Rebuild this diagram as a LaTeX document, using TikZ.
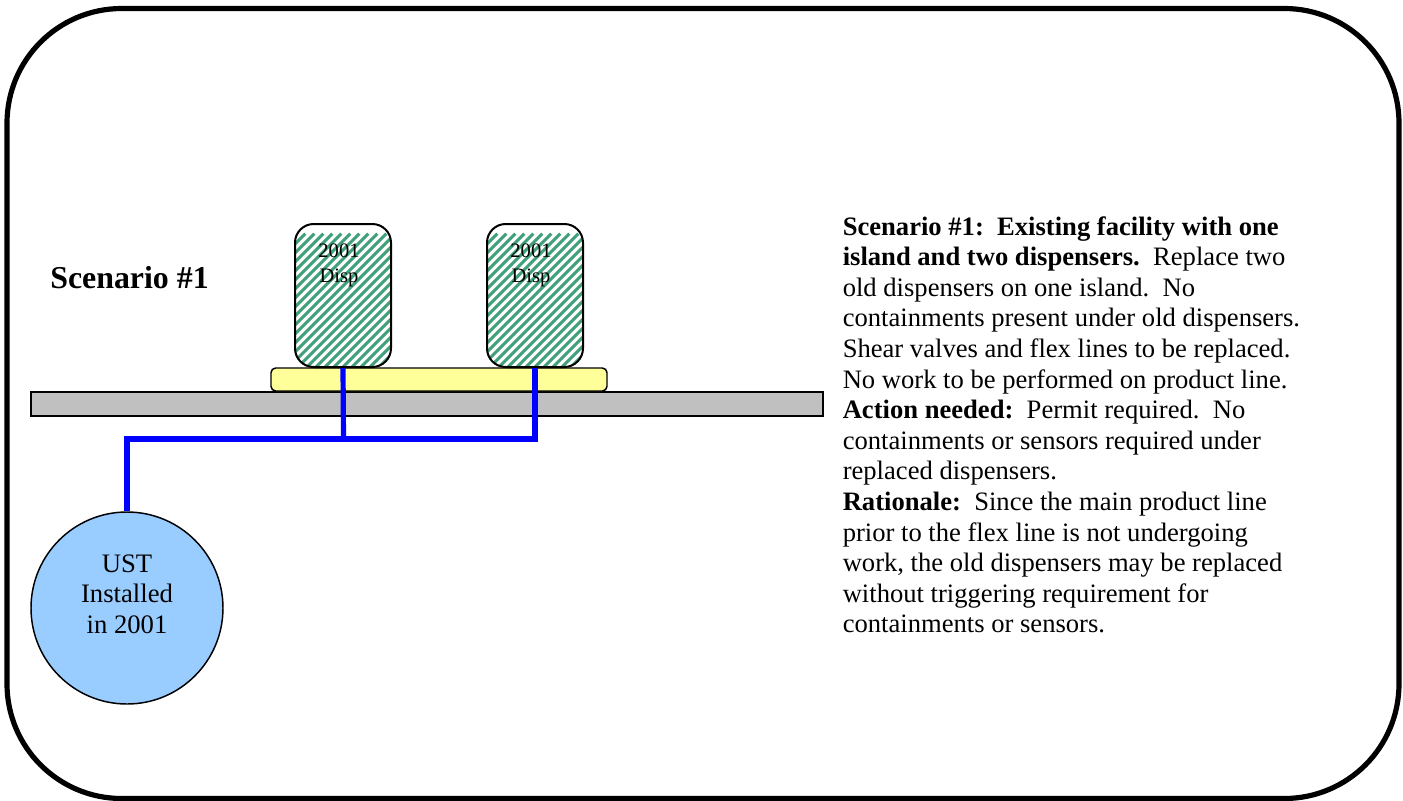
\documentclass[tikz,border=0pt]{standalone}
\usepackage{fontspec}
\setmainfont{Liberation Serif}
\begin{document}
\begin{tikzpicture}[x=0.75pt,y=-0.75pt,
  frame/.style={draw=black,line width=3.9pt,rounded corners=86pt,fill=white},
  dispenser/.style={draw=black,line width=1.5pt,rounded corners=14pt,minimum width=72pt,minimum height=107.25pt,inner sep=0pt,
    path picture={\foreach \k in {-40,...,40}{
      \draw[line width=2.3pt,color=stripe] ([xshift=\k*6.75pt]path picture bounding box.south) ++(-100pt,-100pt) -- ++(200pt,200pt);}}},
  island/.style={draw=black,line width=1.1pt,fill=islandy,rounded corners=3.5pt,minimum width=252pt,minimum height=17.25pt,inner sep=0pt},
  slab/.style={draw=black,line width=1.5pt,fill=slabg,minimum width=594pt,minimum height=18pt,inner sep=0pt},
  tank/.style={draw=black,line width=1.1pt,fill=tankb,circle,minimum size=144pt,inner sep=0pt},
  tanktext/.style={align=center,inner sep=0pt,font=\fontsize{20}{23}\selectfont},
  pipe/.style={draw=pipeb,line width=3.9pt},
  disptext/.style={align=center,inner sep=0pt,font=\fontsize{15.4}{18.75}\selectfont,text=black},
  bodytext/.style={align=left,inner sep=0pt,anchor=north west,font=\fontsize{19.95}{22.95}\selectfont},
  title/.style={inner sep=0pt,font=\fontsize{23.9}{28}\selectfont\bfseries}
]
\definecolor{stripe}{HTML}{3FA07A}
\definecolor{islandy}{HTML}{FFFF99}
\definecolor{slabg}{HTML}{C0C0C0}
\definecolor{tankb}{HTML}{99CCFF}
\definecolor{pipeb}{HTML}{0000FF}
\useasboundingbox (0,0) rectangle (1403,800);
\node[frame,minimum width=1044pt,minimum height=592.5pt,inner sep=0pt] (border) at (703,403.5) {};
\node[slab] (road) at (427,403.5) {};
\node[island] (isl) at (439,379.5) {};
\node[dispenser] (d1) at (343,295.5) {};
\node[dispenser] (d2) at (535,295.5) {};
\node[disptext] (t1) at (339,265) {2001\\Disp};
\node[disptext] (t2) at (531,265) {2001\\Disp};
\node[tank] (ust) at (127,608) {};
\node[tanktext] (ustt) at (127,594) {UST\\Installed\\in 2001};
\node[title] (sc) at (129.5,278) {Scenario \#1};
\coordinate (j) at (343.5,439);
\draw[pipe,line join=miter] (ust.north) |- (j) -| (d2.south);
\draw[pipe] (d1.south) -- (j);
\node[bodytext] (txt) at (842.5,216) {\textbf{Scenario \#1:\ \ Existing facility with one}\\
\textbf{island and two dispensers.}\ \ Replace two\\
old dispensers on one island.\ \ No\\
containments present under old dispensers.\\
Shear valves and flex lines to be replaced.\\
No work to be performed on product line.\\
\textbf{Action needed:}\ \ Permit required.\ \ No\\
containments or sensors required under\\
replaced dispensers.\\
\textbf{Rationale:}\ \ Since the main product line\\
prior to the flex line is not undergoing\\
work, the old dispensers may be replaced\\
without triggering requirement for\\
containments or sensors.};
\end{tikzpicture}
\end{document}
